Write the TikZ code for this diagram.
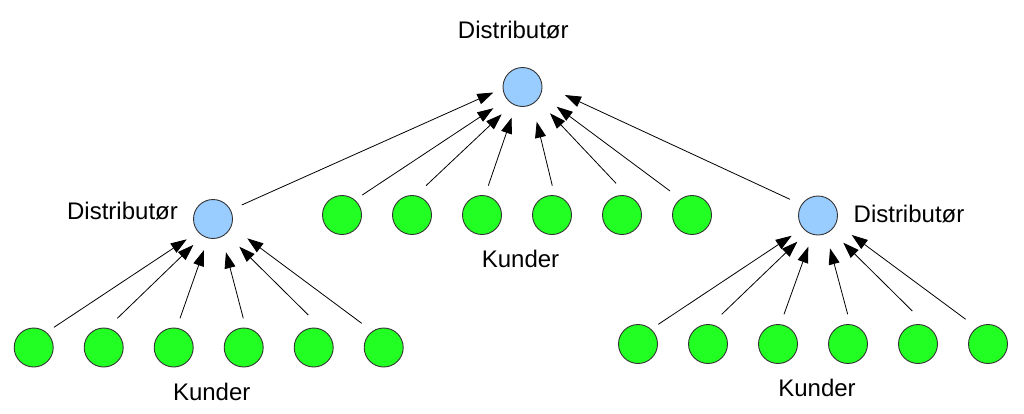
\documentclass[tikz,border=0pt]{standalone}
\usepackage{fontspec}
\setmainfont{Liberation Sans}
\usetikzlibrary{arrows.meta,calc}
\definecolor{blu}{RGB}{153,204,255}
\definecolor{grn}{RGB}{34,255,34}
\tikzset{
 dist/.style={circle, draw=black!80, line width=0.9pt, fill=blu, minimum size=39pt, inner sep=0pt},
 cust/.style={circle, draw=black!80, line width=0.9pt, fill=grn, minimum size=39pt, inner sep=0pt},
 lbl/.style={font=\fontsize{24}{28}\selectfont, anchor=base, inner sep=0pt},
 arr/.style={line width=0.8pt, -{Triangle[length=16pt,width=11pt]}}
}
\begin{document}
\begin{tikzpicture}[x=1pt,y=-1pt]
\useasboundingbox (0,0) rectangle (1024,413);
\node[dist] (top) at (522.5,87) {};
\node[dist] (ld) at (213,219) {};
\node[dist] (rd) at (818,215.5) {};
\foreach \i in {1,...,6} {
 \node[cust] (m\i) at ({272+70*\i},215) {};
 \node[cust] (b\i) at ({-36.3+70*\i},347.5) {};
 \node[cust] (c\i) at ({568+70*\i},344) {};
}
\node[lbl] (t1) at (513.3,38.3) {Distributør};
\node[lbl] (t2) at (122.5,219) {Distributør};
\node[lbl] (t3) at (909,222.3) {Distributør};
\node[lbl] (k1) at (520.5,267.7) {Kunder};
\node[lbl] (k2) at (211.7,400.7) {Kunder};
\node[lbl] (k3) at (817,396.7) {Kunder};
\foreach \s/\ta/\td/\ha/\hd in {
 ld/26/31.9pt/190.7/29.7pt,
 m1/44.6/28.5pt/216/36.1pt,
 m2/64.5/32.5pt/232.7/34.3pt,
 m3/77.9/30pt/250.5/32.4pt,
 m4/89.4/29.3pt/292.3/37.5pt,
 m5/100.7/32.3pt/316.3/38pt,
 m6/132.5/32.6pt/330/39.5pt,
 rd/150/32.3pt/349.3/43.2pt}
 \draw[arr] ($(\s)+(\ta:\td)$) -- ($(top)+(\ha:\hd)$);
\foreach \s/\ta/\td/\ha/\hd in {
 b1/44.9/28.6pt/217.7/33.2pt,
 b2/65/32.2pt/232.8/32.6pt,
 b3/77.8/29.9pt/253.8/32.3pt,
 b4/90.8/29.2pt/291.3/35.7pt,
 b5/99.4/32.9pt/313.5/38.2pt,
 b6/132.3/32.7pt/330.6/39.4pt}
 \draw[arr] ($(\s)+(\ta:\td)$) -- ($(ld)+(\ha:\hd)$);
\foreach \s/\ta/\td/\ha/\hd in {
 c1/44.1/28.3pt/217.5/33.2pt,
 c2/65.2/32.7pt/231.7/33.4pt,
 c3/78.6/30.3pt/252.7/32.7pt,
 c4/90.6/29.7pt/290.1/35pt,
 c5/99.8/33.5pt/312.9/37.1pt,
 c6/132.1/33.3pt/330/38.9pt}
 \draw[arr] ($(\s)+(\ta:\td)$) -- ($(rd)+(\ha:\hd)$);
\end{tikzpicture}
\end{document}
